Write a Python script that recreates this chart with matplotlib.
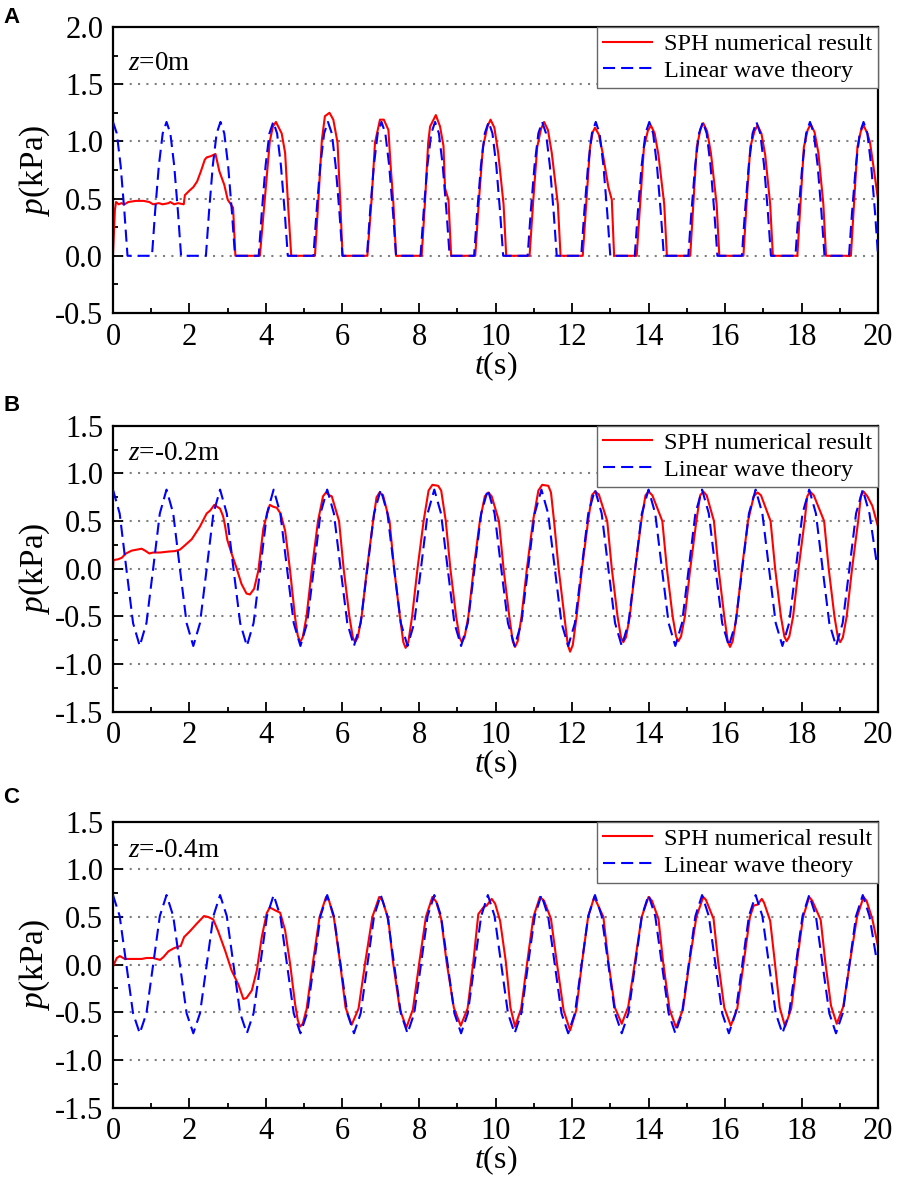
import matplotlib
matplotlib.use("Agg")
import matplotlib.pyplot as plt
from matplotlib.ticker import MultipleLocator, FormatStrFormatter

# ---- panel A (z = 0 m) ----
t_a_sph = [0, 0.05, 0.08, 0.15, 0.22, 0.3, 0.4, 0.6, 0.8, 0.95, 1.05, 1.2, 1.3, 1.45, 1.5, 1.6, 1.7,
           1.85, 1.88, 2.0, 2.1, 2.2, 2.3, 2.4, 2.45, 2.55, 2.68, 2.78, 2.91, 3.0, 3.1, 3.14, 3.2,
           3.84, 3.97, 4.1, 4.18, 4.26, 4.41, 4.5, 4.58, 4.66,
           5.28, 5.37, 5.46, 5.54, 5.66, 5.76, 5.87, 5.94, 6.0,
           6.65, 6.76, 6.85, 6.98, 7.08, 7.2, 7.26, 7.33, 7.4,
           8.07, 8.16, 8.24, 8.29, 8.44, 8.55, 8.64, 8.68, 8.77, 8.84,
           9.47, 9.57, 9.67, 9.79, 9.87, 9.97, 10.07, 10.21, 10.28,
           10.89, 10.99, 11.09, 11.19, 11.27, 11.37, 11.47, 11.63, 11.7,
           12.28, 12.38, 12.47, 12.54, 12.6, 12.7, 12.8, 12.95, 13.04, 13.1,
           13.69, 13.79, 13.88, 13.98, 14.06, 14.16, 14.26, 14.41, 14.48,
           15.09, 15.18, 15.26, 15.36, 15.43, 15.53, 15.63, 15.78, 15.85,
           16.48, 16.57, 16.66, 16.77, 16.85, 16.95, 17.05, 17.18, 17.25,
           17.89, 17.98, 18.06, 18.16, 18.24, 18.34, 18.44, 18.57, 18.64,
           19.29, 19.38, 19.46, 19.55, 19.62, 19.72, 19.79, 19.88, 20.0]
p_a_sph = [0, 0.40, 0.47, 0.45, 0.46, 0.45, 0.47, 0.48, 0.48, 0.47, 0.45, 0.46, 0.45, 0.46, 0.47, 0.45, 0.46,
           0.45, 0.53, 0.57, 0.60, 0.65, 0.74, 0.84, 0.86, 0.87, 0.89, 0.74, 0.62, 0.49, 0.44, 0.42, 0.0,
           0, 0.5, 1.0, 1.13, 1.17, 1.07, 0.9, 0.43, 0,
           0, 0.49, 1.01, 1.22, 1.25, 1.19, 0.99, 0.49, 0,
           0, 0.49, 0.99, 1.19, 1.19, 1.1, 0.78, 0.46, 0,
           0, 0.49, 0.99, 1.13, 1.23, 1.13, 0.96, 0.59, 0.49, 0,
           0, 0.5, 0.95, 1.13, 1.19, 1.12, 0.9, 0.45, 0,
           0, 0.5, 0.95, 1.11, 1.17, 1.1, 0.9, 0.45, 0,
           0, 0.5, 0.95, 1.08, 1.12, 1.06, 0.9, 0.6, 0.49, 0,
           0, 0.5, 0.95, 1.09, 1.14, 1.07, 0.88, 0.45, 0,
           0, 0.5, 0.95, 1.11, 1.16, 1.09, 0.9, 0.45, 0,
           0, 0.5, 0.95, 1.09, 1.14, 1.07, 0.88, 0.45, 0,
           0, 0.5, 0.95, 1.1, 1.15, 1.08, 0.9, 0.45, 0,
           0, 0.5, 0.95, 1.09, 1.14, 1.07, 0.99, 0.78, 0.49]

t_a_lin = [0.0, 0.1, 0.2, 0.3, 0.38,
           1.02, 1.1, 1.2, 1.3, 1.4, 1.5, 1.6, 1.7, 1.78,
           2.43, 2.51, 2.61, 2.71, 2.81, 2.91, 3.01, 3.11, 3.19,
           3.81, 3.89, 3.99, 4.09, 4.19, 4.29, 4.39, 4.49, 4.57,
           5.24, 5.32, 5.42, 5.52, 5.62, 5.72, 5.82, 5.92, 6.0,
           6.64, 6.72, 6.82, 6.92, 7.02, 7.12, 7.22, 7.32, 7.4,
           8.04, 8.12, 8.22, 8.32, 8.42, 8.52, 8.62, 8.72, 8.8,
           9.44, 9.52, 9.62, 9.72, 9.82, 9.92, 10.02, 10.12, 10.2,
           10.84, 10.92, 11.02, 11.12, 11.22, 11.32, 11.42, 11.52, 11.6,
           12.24, 12.32, 12.42, 12.52, 12.62, 12.72, 12.82, 12.92, 13.0,
           13.64, 13.72, 13.82, 13.92, 14.02, 14.12, 14.22, 14.32, 14.4,
           15.04, 15.12, 15.22, 15.32, 15.42, 15.52, 15.62, 15.72, 15.8,
           16.44, 16.52, 16.62, 16.72, 16.82, 16.92, 17.02, 17.12, 17.2,
           17.84, 17.92, 18.02, 18.12, 18.22, 18.32, 18.42, 18.52, 18.6,
           19.24, 19.32, 19.42, 19.52, 19.62, 19.72, 19.82, 19.92, 20.0]
p_a_lin = [1.17, 1.07, 0.79, 0.38, 0.0,
           0.0, 0.38, 0.79, 1.07, 1.17, 1.07, 0.79, 0.38, 0.0,
           0.0, 0.38, 0.79, 1.07, 1.17, 1.07, 0.79, 0.38, 0.0,
           0.0, 0.38, 0.79, 1.07, 1.17, 1.07, 0.79, 0.38, 0.0,
           0.0, 0.38, 0.79, 1.07, 1.17, 1.07, 0.79, 0.38, 0.0,
           0.0, 0.38, 0.79, 1.07, 1.17, 1.07, 0.79, 0.38, 0.0,
           0.0, 0.38, 0.79, 1.07, 1.17, 1.07, 0.79, 0.38, 0.0,
           0.0, 0.38, 0.79, 1.07, 1.17, 1.07, 0.79, 0.38, 0.0,
           0.0, 0.38, 0.79, 1.07, 1.17, 1.07, 0.79, 0.38, 0.0,
           0.0, 0.38, 0.79, 1.07, 1.17, 1.07, 0.79, 0.38, 0.0,
           0.0, 0.38, 0.79, 1.07, 1.17, 1.07, 0.79, 0.38, 0.0,
           0.0, 0.38, 0.79, 1.07, 1.17, 1.07, 0.79, 0.38, 0.0,
           0.0, 0.38, 0.79, 1.07, 1.17, 1.07, 0.79, 0.38, 0.0,
           0.0, 0.38, 0.79, 1.07, 1.17, 1.07, 0.79, 0.38, 0.0,
           0.0, 0.38, 0.79, 1.07, 1.17, 1.07, 0.79, 0.38, 0.0]

# ---- linear theory time samples, shared by panels B and C ----
t_lin = [0.0, 0.175, 0.35, 0.525, 0.7, 0.875, 1.05, 1.225,
         1.4, 1.575, 1.75, 1.925, 2.1, 2.275, 2.45, 2.625,
         2.8, 2.975, 3.15, 3.325, 3.5, 3.675, 3.85, 4.025,
         4.2, 4.375, 4.55, 4.725, 4.9, 5.075, 5.25, 5.425,
         5.6, 5.775, 5.95, 6.125, 6.3, 6.475, 6.65, 6.825,
         7.0, 7.175, 7.35, 7.525, 7.7, 7.875, 8.05, 8.225,
         8.4, 8.575, 8.75, 8.925, 9.1, 9.275, 9.45, 9.625,
         9.8, 9.975, 10.15, 10.325, 10.5, 10.675, 10.85, 11.025,
         11.2, 11.375, 11.55, 11.725, 11.9, 12.075, 12.25, 12.425,
         12.6, 12.775, 12.95, 13.125, 13.3, 13.475, 13.65, 13.825,
         14.0, 14.175, 14.35, 14.525, 14.7, 14.875, 15.05, 15.225,
         15.4, 15.575, 15.75, 15.925, 16.1, 16.275, 16.45, 16.625,
         16.8, 16.975, 17.15, 17.325, 17.5, 17.675, 17.85, 18.025,
         18.2, 18.375, 18.55, 18.725, 18.9, 19.075, 19.25, 19.425,
         19.6, 19.775, 19.95, 20.0]

# ---- panel B (z = -0.2 m) ----
p_b_lin = [0.83, 0.58, 0.0, -0.57, -0.81, -0.57, 0.0, 0.58,
           0.83, 0.58, 0.0, -0.57, -0.81, -0.57, 0.0, 0.58,
           0.83, 0.58, 0.0, -0.57, -0.81, -0.57, 0.0, 0.58,
           0.83, 0.58, 0.0, -0.57, -0.81, -0.57, 0.0, 0.58,
           0.83, 0.58, 0.0, -0.57, -0.81, -0.57, 0.0, 0.58,
           0.83, 0.58, 0.0, -0.57, -0.81, -0.57, 0.0, 0.58,
           0.83, 0.58, 0.0, -0.57, -0.81, -0.57, 0.0, 0.58,
           0.83, 0.58, 0.0, -0.57, -0.81, -0.57, 0.0, 0.58,
           0.83, 0.58, 0.0, -0.57, -0.81, -0.57, 0.0, 0.58,
           0.83, 0.58, 0.0, -0.57, -0.81, -0.57, 0.0, 0.58,
           0.83, 0.58, 0.0, -0.57, -0.81, -0.57, 0.0, 0.58,
           0.83, 0.58, 0.0, -0.57, -0.81, -0.57, 0.0, 0.58,
           0.83, 0.58, 0.0, -0.57, -0.81, -0.57, 0.0, 0.58,
           0.83, 0.58, 0.0, -0.57, -0.81, -0.57, 0.0, 0.58,
           0.83, 0.58, 0.10, 0.04]

t_b_sph = [0, 0.01, 0.14, 0.23, 0.34, 0.49, 0.62, 0.75, 0.84, 0.95, 1.05, 1.23, 1.45, 1.62, 1.75,
           1.88, 2.06, 2.27, 2.45, 2.54, 2.65, 2.8, 2.88, 2.93, 2.99, 3.1, 3.22, 3.36, 3.49, 3.58,
           3.69, 3.8, 3.93, 4.02, 4.1, 4.19, 4.28, 4.38, 4.5, 4.63, 4.76, 4.83, 4.89, 4.96,
           5.06, 5.20, 5.36, 5.49, 5.57, 5.66, 5.72,
           5.91, 6.03, 6.18, 6.27, 6.33, 6.40,
           6.50, 6.64, 6.80, 6.89, 6.97, 7.06,
           7.23, 7.35, 7.50, 7.59, 7.65, 7.72,
           7.82, 7.96, 8.12, 8.25, 8.35, 8.50, 8.58,
           8.70, 8.82, 8.97, 9.06, 9.12, 9.19,
           9.29, 9.43, 9.59, 9.72, 9.81, 9.90,
           10.09, 10.21, 10.36, 10.45, 10.51, 10.58,
           10.68, 10.82, 10.98, 11.12, 11.22, 11.38, 11.45,
           11.53, 11.65, 11.80, 11.89, 11.95, 12.02,
           12.12, 12.26, 12.42, 12.52, 12.60, 12.70,
           12.92, 13.04, 13.19, 13.28, 13.34, 13.41,
           13.51, 13.65, 13.81, 13.92, 14.00, 14.10,
           14.36, 14.48, 14.63, 14.72, 14.78, 14.85,
           14.95, 15.09, 15.25, 15.35, 15.43, 15.52,
           15.71, 15.83, 15.98, 16.07, 16.13, 16.20,
           16.30, 16.44, 16.60, 16.75, 16.85, 16.94,
           17.19, 17.31, 17.46, 17.55, 17.61, 17.68,
           17.78, 17.92, 18.08, 18.15, 18.22, 18.32,
           18.59, 18.71, 18.86, 18.95, 19.01, 19.08,
           19.18, 19.32, 19.48, 19.55, 19.62, 19.72,
           19.85, 20.00]
p_b_sph = [0, 0.09, 0.10, 0.115, 0.16, 0.19, 0.20, 0.21, 0.19, 0.16, 0.17, 0.17, 0.18, 0.185, 0.2,
           0.245, 0.31, 0.44, 0.58, 0.61, 0.67, 0.63, 0.55, 0.45, 0.30, 0.16, 0.02, -0.16, -0.26, -0.27,
           -0.21, -0.02, 0.42, 0.56, 0.67, 0.65, 0.64, 0.58, 0.40, -0.02, -0.51, -0.70, -0.77, -0.72,
           -0.5, 0.0, 0.5, 0.76, 0.80, 0.77, 0.76,
           0.5, 0.0, -0.5, -0.72, -0.77, -0.72,
           -0.5, 0.0, 0.5, 0.75, 0.80, 0.77,
           0.5, 0.0, -0.5, -0.77, -0.83, -0.77,
           -0.5, 0.0, 0.5, 0.82, 0.88, 0.87, 0.82,
           0.5, 0.0, -0.5, -0.72, -0.77, -0.72,
           -0.5, 0.0, 0.5, 0.76, 0.80, 0.76,
           0.5, 0.0, -0.5, -0.76, -0.82, -0.76,
           -0.5, 0.0, 0.5, 0.82, 0.88, 0.87, 0.80,
           0.5, 0.0, -0.5, -0.80, -0.87, -0.80,
           -0.5, 0.0, 0.5, 0.77, 0.81, 0.78,
           0.5, 0.0, -0.5, -0.72, -0.77, -0.72,
           -0.5, 0.0, 0.5, 0.77, 0.81, 0.77,
           0.5, 0.0, -0.5, -0.71, -0.76, -0.71,
           -0.5, 0.0, 0.5, 0.77, 0.81, 0.77,
           0.5, 0.0, -0.5, -0.76, -0.82, -0.76,
           -0.5, 0.0, 0.5, 0.76, 0.80, 0.77,
           0.5, 0.0, -0.5, -0.71, -0.76, -0.71,
           -0.5, 0.0, 0.5, 0.76, 0.81, 0.77,
           0.5, 0.0, -0.5, -0.72, -0.77, -0.72,
           -0.5, 0.0, 0.5, 0.76, 0.81, 0.76,
           0.66, 0.44]

# ---- panel C (z = -0.4 m) ----
p_c_lin = [0.73, 0.51, 0.0, -0.51, -0.72, -0.51, 0.0, 0.51,
           0.73, 0.51, 0.0, -0.51, -0.72, -0.51, 0.0, 0.51,
           0.73, 0.51, 0.0, -0.51, -0.72, -0.51, 0.0, 0.51,
           0.73, 0.51, 0.0, -0.51, -0.72, -0.51, 0.0, 0.51,
           0.73, 0.51, 0.0, -0.51, -0.72, -0.51, 0.0, 0.51,
           0.73, 0.51, 0.0, -0.51, -0.72, -0.51, 0.0, 0.51,
           0.73, 0.51, 0.0, -0.51, -0.72, -0.51, 0.0, 0.51,
           0.73, 0.51, 0.0, -0.51, -0.72, -0.51, 0.0, 0.51,
           0.73, 0.51, 0.0, -0.51, -0.72, -0.51, 0.0, 0.51,
           0.73, 0.51, 0.0, -0.51, -0.72, -0.51, 0.0, 0.51,
           0.73, 0.51, 0.0, -0.51, -0.72, -0.51, 0.0, 0.51,
           0.73, 0.51, 0.0, -0.51, -0.72, -0.51, 0.0, 0.51,
           0.73, 0.51, 0.0, -0.51, -0.72, -0.51, 0.0, 0.51,
           0.73, 0.51, 0.0, -0.51, -0.72, -0.51, 0.0, 0.51,
           0.73, 0.51, 0.08, 0.04]

t_c_sph = [0, 0.1, 0.18, 0.31, 0.44, 0.62, 0.75, 0.88, 1.05, 1.23, 1.32, 1.45, 1.58, 1.71, 1.77,
           1.86, 2.01, 2.19, 2.38, 2.49, 2.62, 2.75, 2.93, 3.1, 3.28, 3.41, 3.49, 3.63, 3.76, 3.89,
           4.02, 4.1, 4.24, 4.37, 4.5, 4.63, 4.76, 4.83, 4.89, 4.96,
           5.06, 5.23, 5.40, 5.57, 5.65,
           5.78, 5.93, 6.08, 6.24,
           6.42, 6.60, 6.78, 6.96, 7.05,
           7.20, 7.32, 7.50, 7.67,
           7.84, 8.01, 8.18, 8.35, 8.45,
           8.58, 8.72, 8.91, 9.09,
           9.27, 9.42, 9.55, 9.68, 9.77, 9.90, 9.99,
           10.12, 10.27, 10.39, 10.51,
           10.67, 10.83, 10.99, 11.16, 11.27,
           11.45, 11.60, 11.78, 11.95,
           12.11, 12.26, 12.42, 12.58,
           12.82, 12.95, 13.12, 13.30,
           13.47, 13.65, 13.82, 14.00, 14.09,
           14.26, 14.38, 14.55, 14.72,
           14.90, 15.07, 15.25, 15.43, 15.50,
           15.70, 15.82, 15.98, 16.15,
           16.32, 16.49, 16.65, 16.75, 16.85, 16.96, 17.02,
           17.18, 17.30, 17.43, 17.57,
           17.73, 17.88, 18.04, 18.20, 18.28,
           18.50, 18.62, 18.77, 18.92,
           19.09, 19.27, 19.45, 19.62, 19.70,
           19.85, 20.00]
p_c_sph = [-0.02, 0.07, 0.09, 0.06, 0.06, 0.06, 0.06, 0.07, 0.07, 0.05, 0.08, 0.14, 0.17, 0.19, 0.195,
           0.29, 0.35, 0.43, 0.51, 0.50, 0.475, 0.35, 0.15, -0.06, -0.21, -0.36, -0.35, -0.27, -0.06, 0.29,
           0.54, 0.60, 0.57, 0.545, 0.36, 0.01, -0.41, -0.58, -0.65, -0.62,
           -0.47, 0.03, 0.5, 0.71, 0.67,
           0.48, 0.04, -0.45, -0.63,
           -0.46, 0.04, 0.5, 0.71, 0.67,
           0.47, 0.03, -0.47, -0.66,
           -0.47, 0.03, 0.5, 0.71, 0.66,
           0.48, 0.03, -0.45, -0.64,
           -0.46, 0.03, 0.53, 0.60, 0.62, 0.69, 0.64,
           0.46, 0.03, -0.45, -0.65,
           -0.46, 0.03, 0.5, 0.71, 0.67,
           0.48, 0.03, -0.48, -0.69,
           -0.48, 0.02, 0.5, 0.71,
           0.5, 0.03, -0.45, -0.62,
           -0.44, 0.04, 0.5, 0.71, 0.67,
           0.48, 0.03, -0.47, -0.66,
           -0.47, 0.03, 0.5, 0.71, 0.68,
           0.48, 0.03, -0.45, -0.64,
           -0.46, 0.03, 0.5, 0.62, 0.63, 0.69, 0.65,
           0.46, 0.03, -0.45, -0.65,
           -0.46, 0.03, 0.5, 0.71, 0.67,
           0.47, 0.03, -0.43, -0.62,
           -0.44, 0.04, 0.5, 0.71, 0.67,
           0.48, 0.19]

panel_letters = ["A", "B", "C"]
depth_labels = [r"$z$=0m", r"$z$=-0.2m", r"$z$=-0.4m"]
legend_labels = ["SPH numerical result", "Linear wave theory"]

plt.rcParams['font.family'] = 'Liberation Serif'
plt.rcParams['mathtext.fontset'] = 'custom'
plt.rcParams['mathtext.rm'] = 'Liberation Serif'
plt.rcParams['mathtext.it'] = 'Liberation Serif:italic'
plt.rcParams['axes.unicode_minus'] = False

fig = plt.figure(figsize=(8.98, 11.78), dpi=100)

panels = [
    dict(rect=[0.1258, 0.7343, 0.852, 0.2428], ylim=(-0.5, 2.0), grid=[0.0, 0.5, 1.0, 1.5],
         sph=(t_a_sph, p_a_sph), lin=(t_a_lin, p_a_lin), label_y=0.874, letter_y=0.994),
    dict(rect=[0.1258, 0.3958, 0.852, 0.2428], ylim=(-1.5, 1.5), grid=[-1.0, -0.5, 0.0, 0.5, 1.0],
         sph=(t_b_sph, p_b_sph), lin=(t_lin, p_b_lin), label_y=0.903, letter_y=0.665),
    dict(rect=[0.1258, 0.0597, 0.852, 0.2428], ylim=(-1.5, 1.5), grid=[-1.0, -0.5, 0.0, 0.5, 1.0],
         sph=(t_c_sph, p_c_sph), lin=(t_lin, p_c_lin), label_y=0.900, letter_y=0.332),
]

for i, pn in enumerate(panels):
    ax = fig.add_axes(pn['rect'])
    for g in pn['grid']:
        ax.axhline(g, color='#808080', lw=1.5, linestyle=(0, (1, 3)), zorder=0.5)

    ax.plot(pn['sph'][0], pn['sph'][1], color='#ff0000', lw=1.5, label=legend_labels[0], zorder=2)
    ax.plot(pn['lin'][0], pn['lin'][1], color='#0000ff', lw=1.5, dashes=(5.8, 2.9),
            label=legend_labels[1], zorder=3)

    ax.set_xlim(0, 20)
    ax.set_ylim(*pn['ylim'])
    ax.xaxis.set_major_locator(MultipleLocator(2))
    ax.xaxis.set_minor_locator(MultipleLocator(1))
    ax.yaxis.set_major_locator(MultipleLocator(0.5))
    ax.yaxis.set_minor_locator(MultipleLocator(0.25))
    ax.yaxis.set_major_formatter(FormatStrFormatter('%.1f'))
    ax.xaxis.set_major_formatter(FormatStrFormatter('%d'))
    ax.tick_params(which='both', direction='in', top=False, right=False, width=1.3)
    ax.tick_params(which='major', length=7, labelsize=22, pad=7)
    ax.tick_params(which='minor', length=3.5)
    for s in ax.spines.values():
        s.set_linewidth(1.6)

    ax.set_ylabel(r"$p$(kPa)", fontsize=24, labelpad=2)
    ax.set_xlabel(r"$t$(s)", fontsize=23, labelpad=-2)

    ax.text(0.02, pn['label_y'], depth_labels[i], transform=ax.transAxes,
            fontsize=19.5, va='center', ha='left')

    leg = ax.legend(loc='upper right', fontsize=17.5, frameon=True, fancybox=False,
                    edgecolor='#666666', framealpha=1, borderaxespad=0, borderpad=0.25,
                    handlelength=2.0, handletextpad=0.5, labelspacing=0.2)
    leg.get_frame().set_linewidth(1.0)
    leg.set_zorder(5)

    fig.text(0.004, pn['letter_y'], panel_letters[i], fontsize=16, fontweight='bold',
             family='Liberation Sans', va='top', ha='left')

fig.savefig('out.png', dpi=100)
